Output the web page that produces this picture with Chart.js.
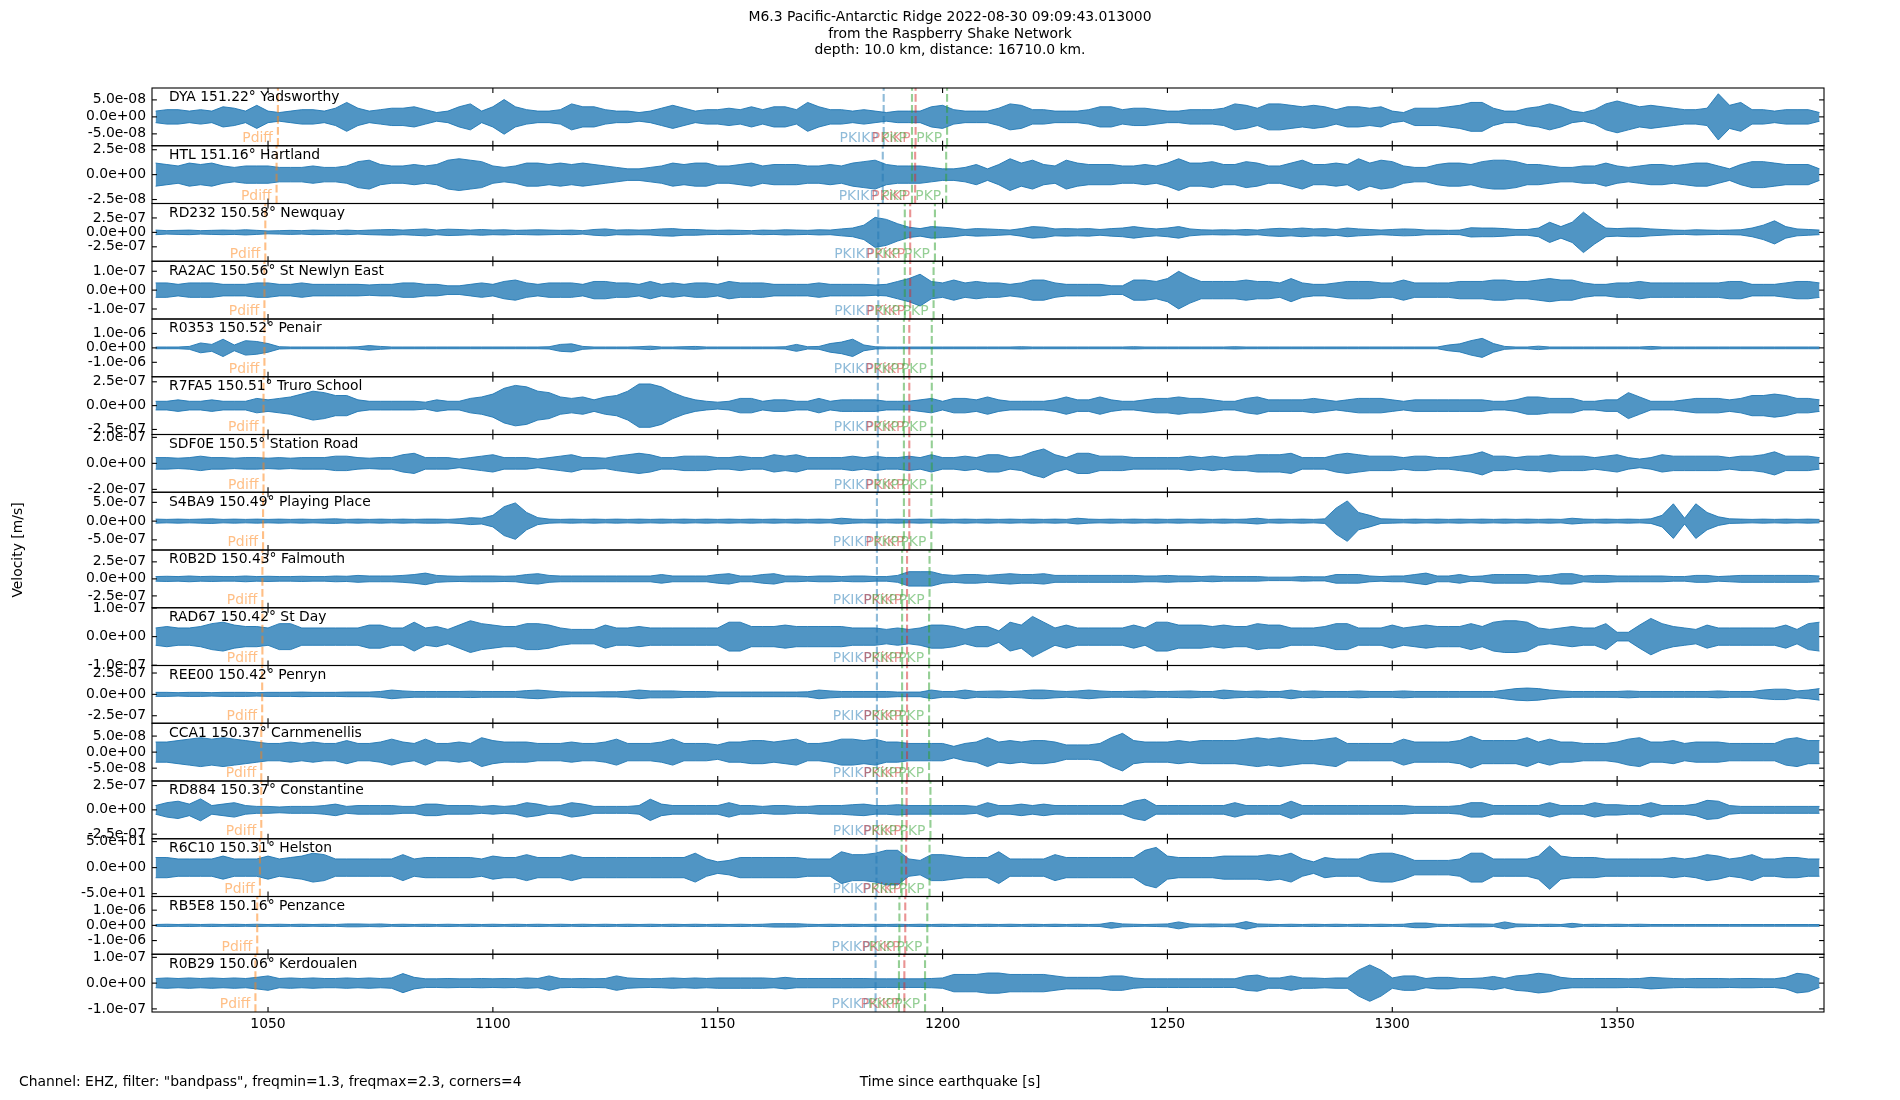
<!DOCTYPE html>
<html>
<head>
<meta charset="utf-8">
<script src="https://cdn.jsdelivr.net/npm/chart.js@4.4.1/dist/chart.umd.min.js"></script>
<style>
  html, body { margin: 0; padding: 0; background: #fff; }
  canvas { display: block; }
</style>
</head>
<body>
<canvas id="chart" width="1900" height="1100"></canvas>
<script>
// station labels, top to bottom
const stations = [
  'DYA 151.22° Yadsworthy', 'HTL 151.16° Hartland', 'RD232 150.58° Newquay',
  'RA2AC 150.56° St Newlyn East', 'R0353 150.52° Penair', 'R7FA5 150.51° Truro School',
  'SDF0E 150.5° Station Road', 'S4BA9 150.49° Playing Place', 'R0B2D 150.43° Falmouth',
  'RAD67 150.42° St Day', 'REE00 150.42° Penryn', 'CCA1 150.37° Carnmenellis',
  'RD884 150.37° Constantine', 'R6C10 150.31° Helston', 'RB5E8 150.16° Penzance',
  'R0B29 150.06° Kerdoualen'
];

// half range of each panel's y axis and its tick value
const yLimits = [8.5e-8, 2.9e-8, 5.0e-7, 1.53e-7, 2.0e-6, 3.03e-7, 2.22e-7, 7.7e-7,
                 4.24e-7, 1.01e-7, 3.38e-7, 9.0e-8, 2.97e-7, 55.5, 1.9e-6, 1.12e-7];
const yTicks = [5e-8, 2.5e-8, 2.5e-7, 1e-7, 1e-6, 2.5e-7, 2e-7, 5e-7,
                2.5e-7, 1e-7, 2.5e-7, 5e-8, 2.5e-7, 50, 1e-6, 1e-7];
const timeTicks = [1050, 1100, 1150, 1200, 1250, 1300, 1350];
const timeRange = [1024.2, 1396.0];

// phase arrival times [s], one per station
const pdiff  = [1052.2, 1051.9, 1049.4, 1049.2, 1049.2, 1049.0, 1049.0, 1048.9,
                1048.75, 1048.75, 1048.7, 1048.5, 1048.5, 1048.2, 1047.6, 1047.2];
const pkikp  = [1186.9, 1186.7, 1185.7, 1185.7, 1185.6, 1185.6, 1185.6, 1185.4,
                1185.4, 1185.4, 1185.4, 1185.4, 1185.4, 1185.3, 1185.1, 1185.1];
const pkikpInner = [1194.0, 1193.9, 1192.8, 1192.8, 1192.6, 1192.6, 1192.6, 1192.6,
                1192.1, 1192.1, 1192.1, 1192.1, 1192.0, 1191.9, 1191.7, 1191.5];
const pkpA   = [1193.2, 1193.2, 1191.6, 1191.6, 1191.4, 1191.4, 1191.4, 1191.4,
                1191.0, 1191.0, 1191.0, 1191.0, 1191.0, 1190.9, 1190.4, 1190.3];
const pkpB   = [1201.0, 1200.8, 1198.3, 1198.0, 1197.6, 1197.6, 1197.6, 1197.5,
                1197.1, 1197.0, 1197.0, 1197.0, 1197.3, 1197.1, 1196.6, 1196.1];

// trace envelopes, tenths of the panel half range, sampled every 2.5 s from 1025 s
const t0 = 1025, dt = 2.5;
const envDYA = [
  2,2.5,2.5,2,2.5,2,3.5,3,2,4, 2,1.5,2,2.5,2.5,2,3,5,3,2, 2.5,3,3,3.5,2.5,1.5,2,3.5,4.5,2, 3.5,6,3.5,2.5,2,2,2.5,4.5,3.5,3.5, 2.5,2,2,1.5,2,3,4,3,2,2.5,
  2.5,3,2.5,3.5,2.5,3.5,3.5,2.5,5,3.5, 2.5,2.5,2,2.5,2,1.5,2,2,2,3.5, 4,2.5,2,2,2,3,4.5,4,2.5,2.5, 2,2,2,2.5,3.5,3.5,2.5,3,3,2.5, 2,2,2.5,2.5,2.5,3,4.5,4,3,
  4.5,4.5,4,3.5,4,3.5,2.5,3.5,3.5,3, 3.5,2,1.5,3,3,3,3.5,4,5,5, 3,2,2,3,3.5,4.5,3.5,2,1.5,2.5, 4.5,5.5,4.5,3.5,4,3.5,3,2.5,2.5,3, 8,4,5,2.5,2.5,2,2.5,2.5,2.5,1.5];
const envHTL = [
  4,3.5,3,4,3.5,4,3,2.5,3,3, 3,2.5,2.5,2.5,3,2.5,2.5,3,4.5,5, 3.5,3,3,3.5,3,3.5,5,5.5,5,4.5, 3,2.5,3,4,4,3.5,4,3.5,4,3.5, 3,2.5,2,2,2.5,3,4,3.5,4,4,
  3,3,3.5,4,3,3.5,3.5,3.5,3,3, 3.5,3,4,4.5,5,3.5,3,3,3,2.5, 2,2,2.5,3.5,2,3.5,5.5,4,5,3.5, 3,5,4,3.5,3.5,3.5,3,3,3.5,3, 4,5.5,4,4,4.5,3.5,3.5,4.5,4,
  3,3,4,5,3.5,3.5,4,3.5,5.5,4, 5,4.5,3,2.5,2.5,3.5,4,4,3.5,4.5, 5,5,4.5,3.5,3.5,3,2.5,2.5,3,3, 4,3,2.5,3,3.5,3.5,3,3.5,4,4, 3,2,3.5,4.5,4.5,4,3.5,3.5,3.5,2];
const envRD232 = [
  0.8,0.6,0.7,0.8,0.6,0.7,0.8,0.7,0.9,0.7, 0.5,0.6,0.7,0.6,0.8,0.7,0.6,0.8,0.6,0.8, 0.9,1,0.8,1,1.2,0.8,1.1,1,0.8,1, 0.8,0.9,0.7,0.8,0.9,0.8,0.7,0.8,0.6,1, 1.2,0.8,0.9,0.8,0.9,1.2,1.3,1,1,0.8,
  0.7,0.8,0.7,0.6,0.8,0.7,0.9,0.8,0.7,0.9, 0.8,1.2,1.5,2.5,5.2,4.5,3,1.8,1.3,2, 1.8,1.5,1,1.3,1.2,1,0.8,1.3,2,1.8, 1.2,1.3,1.2,1.3,1,1.3,1.5,2,1.5,1.2, 1.5,2,1.2,0.9,0.8,0.9,0.8,1,0.8,
  1.2,1.4,1.2,1.5,1.2,1.3,1,1.5,1.2,1, 0.8,1,1.2,1.1,0.8,0.8,0.7,0.8,1.6,1.5, 1.5,1.3,1,1,1.5,3.5,2,3.5,7,4, 1.5,1.3,1.5,1.5,1.2,1,0.8,0.7,0.9,0.8, 0.7,0.8,0.9,1.5,2.5,4,2,1.2,1,0.8];
const envRA2AC = [
  2.5,2.5,2,2.5,2.5,2.5,2,2,2,2.5, 2.5,2,2,2.5,2,2,2,2,2,1.8, 2,2,2.5,2.5,2,2,1.5,1.5,2,2.5, 2,3,3.5,2.5,2,2.5,2.5,2.5,2,3, 3,2.5,2.5,2,3,2,2.5,2,2.5,2.5,
  2,3,2.5,2.5,2.5,2,2,2,2,2.5, 2,2,2,2,1.8,2,3,4,5.5,3, 2.5,3.5,2.5,3,2.5,2.5,2,2.5,3.5,3.5, 2.5,2,2,2,2,1.5,1.5,3.5,3.5,3, 4,6.5,4.5,3,3,3,3,3.5,3,
  3,2.5,4,2.5,2,2,2.5,3,3,3, 2.5,2.5,3.5,2.5,2.5,2.5,2.5,3,3,3, 3.5,3.5,3,3,3.5,4,3.5,3.5,2.5,2, 2,2.5,2.5,3,2.5,2.5,2.5,2.5,2.5,2.5, 2.5,3,3,2,2,2,2.5,3,3,2.5];
const envR0353 = [
  0.3,0.3,0.3,0.5,1.7,1.2,3,1,2.5,2.2, 1.5,0.4,0.3,0.3,0.3,0.3,0.3,0.3,0.4,0.8, 0.5,0.3,0.3,0.3,0.3,0.3,0.3,0.3,0.3,0.3, 0.3,0.3,0.3,0.3,0.3,0.4,1.2,1.4,0.5,0.3, 0.3,0.3,0.3,0.4,0.6,0.3,0.3,0.4,0.5,0.3,
  0.3,0.3,0.3,0.3,0.3,0.3,0.4,1.2,0.4,0.5, 1.5,2,3,1,0.4,0.3,0.3,0.3,0.3,0.3, 0.3,0.3,0.3,0.3,0.3,0.3,0.3,0.4,0.3,0.3, 0.3,0.3,0.3,0.3,0.3,0.3,0.3,0.4,0.3,0.3, 0.3,0.3,0.3,0.3,0.3,0.3,0.4,0.3,0.3,
  0.3,0.3,0.3,0.3,0.3,0.3,0.3,0.3,0.3,0.3, 0.3,0.3,0.3,0.3,0.3,0.3,1,1.4,2.5,3.3, 1.5,0.5,0.3,0.3,0.6,0.3,0.3,0.3,0.3,0.3, 0.3,0.3,0.3,0.3,0.5,0.3,0.3,0.3,0.3,0.3, 0.3,0.3,0.3,0.3,0.3,0.3,0.3,0.3,0.3,0.3];
const envR7FA5 = [
  1.5,1.5,2,1.5,1.5,2,1.5,1.5,1.5,2.5, 2,2.5,3,4,5,4.5,3.5,3.5,2,1.5, 1.5,1.5,1.5,1.5,1.2,2,1.5,1.5,2.5,3, 4,6,7,6.5,5,4.5,3,2.5,3,2, 3,3.5,5,7.5,7.5,6.5,4.5,3,2,1.5,
  1.2,1.5,2.5,2.5,1.5,2,2,1.5,1.5,2.5, 1.5,2,2,2,2,1.5,1.5,1.5,2,2.5, 1.5,2.5,2.5,2,3,2,1.5,1.5,1.5,1.5, 2,3,2,2,3,2,1.5,1.5,2,2.5, 2.5,3,2.5,2.5,2,1.5,1.5,2.5,3,
  2,2,2,2,2.5,2,1.5,2,2.5,2.5, 2.5,2,1.5,2,2,2,2,2,2,2, 1.5,1.5,2,3,3,2.5,2.5,2.5,1.5,1.5, 2,2,4.5,3,1.5,1.5,1.5,2,2.5,2.5, 2.5,2,2.5,3.5,3.5,4,3.5,2.5,2.5,2];
const envSDF0E = [
  2,2,1.8,2,2.5,2,2,1.8,2,2, 1.8,2,1.8,2,2,2,2.5,2.5,2,1.8, 2,2,3,3.5,2,2,2,1.5,2,2.5, 3,2,2,2,1.5,2,2.5,3,2,2, 1.8,2.5,3,3.5,3,2,2,2.5,2.5,2.5,
  2,2,2.5,2,2,3,2.5,3,2,2, 2,2,2.5,2,2.5,2,2,2.5,2,3, 2,2,2.5,2,3,3,2,2.5,4,5, 3,2,3.5,3.5,2.5,2.5,2.5,2,2,2, 2,2,2.5,2,2.5,2,2.5,2.5,3,
  3,3,3.5,2,2,2,3,3.5,3,2.5, 2.5,2.5,2,2.5,2.5,2,2,2.5,3,4, 2.5,2.5,2,2.5,2.5,3,2.5,2.5,2.5,2, 2.5,3,2,1.5,2,3,2.5,2.5,2.5,2.5, 2.5,2,2.5,2.5,3,4,2.5,2.5,2.5,2];
const envS4BA9 = [
  0.7,0.6,0.7,0.6,0.7,0.8,0.6,0.7,0.6,0.7, 0.6,0.7,0.6,0.7,0.6,0.7,0.8,0.6,0.7,0.6, 0.7,0.6,0.7,0.6,0.7,0.7,0.6,0.8,1.2,1, 2,5,6.3,3,1.2,0.7,0.6,0.7,0.6,0.7, 0.6,0.7,0.6,0.7,0.6,0.7,0.6,0.7,0.6,0.7,
  0.6,0.7,0.6,0.7,0.6,0.7,0.6,0.7,0.6,0.7, 0.6,1,0.7,0.6,0.7,0.6,0.7,0.6,0.7,0.6, 0.7,0.6,0.7,0.6,0.7,0.6,0.7,0.6,0.7,0.6, 0.7,0.6,1,0.7,0.6,0.7,0.6,0.7,0.6,0.7, 0.6,0.7,0.6,0.7,0.6,0.7,0.6,0.7,1,
  0.6,0.7,0.6,0.7,0.6,0.8,4.5,7,3,2, 0.8,0.7,0.6,0.7,0.6,0.7,0.6,0.7,0.6,0.7, 0.6,0.7,0.6,0.7,0.6,0.7,0.6,1,0.7,0.6, 0.7,0.6,0.7,0.6,0.8,2,6,1,6,3, 1.5,0.8,0.7,0.6,0.7,0.6,0.7,0.6,0.7,0.6];
const envR0B2D = [
  0.8,0.9,0.8,1,0.8,0.9,0.8,0.8,1,0.8, 0.9,0.8,0.8,0.9,0.8,0.8,1,0.9,1.2,1, 1,1,1.2,1.5,2,1.2,1,0.9,1,1, 1,0.9,1,1.5,1.8,1.2,1,1,1,1, 1,1,1,1,1,1.5,1,1,1,1,
  1.5,1.8,1,1,1.5,1.8,1,1,0.8,1, 1,0.8,1,1,0.8,0.8,1.2,2.5,2.5,2.5, 1.5,1.2,1.5,1.5,1.2,1.5,1.8,1.5,1.5,1.8, 1.2,1.2,1.2,1.2,1.2,1.2,1.2,1.2,1,1, 1.2,1,1,0.8,1,0.8,0.8,0.8,0.8,
  0.6,0.6,0.6,0.8,0.7,0.7,1.5,1.5,1.5,1, 0.8,1,1,1.5,2,1,1,1.5,0.8,1, 1.5,1.5,1.5,1.5,1,1.2,1.8,1.8,1,1.2, 1.2,1,1,1,1,1,0.8,0.8,1.2,1.2, 0.8,1,1.2,1.2,1.2,1.2,1.2,1.2,1.2,1];
const envRAD67 = [
  3,3.5,3,3,3.5,4.5,5,4,3.5,3.5, 3,4.5,4.5,3,3,3,3,3,3,4, 4,3,3,5,3,3.5,2.5,4,5.5,4.5, 4,3.5,3.5,4.5,4.5,4,3,2.5,2.5,2.5, 4,3,3,3.5,3,3,3,3,3,3,
  3,5,5,3.5,3.5,3.5,4,3.5,3.5,3.5, 3.5,3.5,3,3,3,2.5,3,2.5,3,4, 4,3.5,2.5,3.5,3.5,2,5,4,7,5, 3,4,3,3,3,3,3,4,3,5, 5,4,4,4,3.5,4,3.5,3.5,4.5,
  4,4,3,3,3,3.5,4.5,4.5,3,3, 3,4,3,3.5,4,3.5,3.5,3.5,4.5,3.5, 5,5.5,5.5,5,3,2.5,3,3.5,3,3, 4.5,1.5,1.5,4,6.3,4.5,3.5,3,2.5,4, 3,3,3,3,3,3,4,2.5,4.5,5];
const envREE00 = [
  0.7,0.7,0.6,0.7,0.7,0.6,0.7,0.7,0.7,0.6, 0.7,0.7,0.7,0.8,0.7,0.7,0.7,0.8,0.8,0.8, 1,1.5,1.2,1,1,1,1,1,1.1,1, 1,1,1,1.3,1.5,1.2,0.9,0.8,0.8,0.8, 0.9,0.9,1.1,1.5,1.2,1.2,1.2,1,1,1,
  0.8,0.8,0.8,0.8,0.8,0.8,0.8,0.8,0.9,1.5, 1.2,1,1,1,1,1,0.8,0.8,0.8,1.5, 1,1,1.5,1,1.1,1.2,1,1.2,1.5,1.5, 1.2,1,1.2,1.5,1.2,1,1,1.1,1.2,1, 1,1.1,1.2,1,1,1.5,1.2,1,1.2,
  1,1,1.5,1,1.2,1,1,1,1.2,1, 1,1,1.2,1,1,1,1,1,1,1, 1,1.5,2,2.2,2,1.5,1.2,1,1,1, 1,1,1.2,1,1,1,1,1,1,1, 1.2,1,1,1,1.5,1.8,1.8,1.2,1.5,2];
const envCCA1 = [
  3.5,3.5,4,4.5,5,4.5,5,4.5,4,3.5, 3,3,3.5,3,3.5,3,3,4,3,3, 3.5,4.5,3.5,3,4.5,3,3,3.5,3,5, 4,3.5,3.5,3.5,3,3,3,3.5,3,3, 3.5,4.5,3,3,3,3.5,4.5,3,3,3,
  2.5,3.5,3.5,4,4,3.5,4,4.5,3,3, 3.5,4.5,4.5,4,4.5,3.5,3.5,3,3,3, 3,2,3,3.5,5,3.5,4,3.5,4,4, 3.5,2.5,2.5,2.5,3,5,6.5,4,3.5,3.5, 3.5,4,3.5,4,4,4,4,4.5,5,
  4.5,5,4.5,4,4,4.5,5,3,3,3, 3,3,4.5,3.5,3.5,3.5,3.5,4,5.5,4, 4,4,4,5,3.5,4.5,3.5,3.5,3,3, 3,3.5,4.5,5,3.5,3.5,4,3,3.5,3.5, 3.5,3,3,3,3,3,4.5,5,4,4];
const envRD884 = [
  1.5,2.5,3,2,3.8,1.5,2,2.5,1.5,1.2, 1.2,1,1.2,1.2,1.2,1.5,2,1.2,1.5,1.5, 1.5,1.5,1.2,1.2,2,2,1.5,1.5,1.5,1.2, 1.5,1.2,1.5,2.5,2,1.2,1.5,2.5,2,1.2, 1.2,1.2,1.2,1.5,3.7,2,1.5,1.5,1.5,1.5,
  1.5,2.5,1.5,1.5,1.2,1.5,1.5,1.2,1.2,1.5, 1.5,1.5,1.8,2,1.5,1.5,1.8,1.5,1.5,1.5, 1.5,1.5,1.5,1.2,2.5,1.5,1.5,2,1.5,2, 1.5,1.5,1.5,1.5,1.5,1.5,1.5,3,3.7,1.5, 1.5,1.5,1.5,1.5,1.5,1.5,2.5,1.5,1.5,
  1.5,1.5,3,1.5,1.5,1.5,1.5,1.5,1.5,1.5, 1.5,1.5,1.5,1.2,1.2,1.2,1.2,1.5,2.5,2.5, 1.5,1.5,1.5,1.5,1.5,2.5,1.5,1.5,1.5,2.5, 1.8,1.8,1.5,1.5,2.5,1.5,1.5,1.5,2,3.3, 3,1.5,1.2,1.2,1.2,1.2,1.2,1.2,1.2,1.2];
const envR6C10 = [
  3.5,3.5,3,3,3,3,4,3,3,3, 4,3,3.5,4,5,4.5,3,3,3,3, 3,3,4.5,3,3.5,3.5,3.5,3.5,3.5,3, 4,3.5,3.5,4.5,3.5,3.5,3.5,4.5,3.5,3.5, 3.5,3.5,3.5,3.5,3.5,3.5,3.5,3.5,5,3,
  2,2.5,3.5,3.5,3.5,3.5,3.5,3.5,3,3, 3,5.5,4.5,4.5,5,6,6,3,2.5,4.5, 4.5,4,3.5,3.5,3.5,5.5,3,3,3,3, 4.5,3.5,3.5,3.5,3.5,3.5,3.5,3.5,6,7, 4,3.5,3.5,3.5,3.5,4,4,4,4,
  4.5,4,5,3,2,3.5,3,3,3,4.5, 5,5,4,2.5,2.5,2.5,2.5,3,5,5, 3,3,3,3,4,7.5,4,3.5,3.5,3.5, 3,3,3,3,3,3,3.5,3,3.5,4.5, 4,3,3.5,4.5,3,3,3.5,3.5,3,3];
const envRB5E8 = [
  0.3,0.4,0.3,0.4,0.3,0.4,0.3,0.4,0.3,0.4, 0.3,0.4,0.3,0.4,0.3,0.4,0.3,0.5,0.5,0.4, 0.5,0.3,0.4,0.3,0.4,0.3,0.4,0.3,0.4,0.3, 0.4,0.3,0.4,0.3,0.4,0.3,0.4,0.3,0.4,0.3, 0.4,0.3,0.4,0.3,0.4,0.3,0.4,0.3,0.4,0.3,
  0.4,0.3,0.4,0.3,0.4,0.6,0.6,0.6,0.4,0.3, 0.4,0.3,0.4,0.3,0.4,0.3,0.4,0.3,0.4,0.3, 0.4,0.3,0.4,0.3,0.4,0.3,0.4,0.3,0.4,0.3, 0.4,0.3,0.4,0.3,0.4,1,0.5,0.4,0.3,0.4, 0.5,1.2,0.5,0.4,0.5,0.4,0.5,1.3,0.5,
  0.4,0.3,0.4,0.3,0.4,0.3,0.4,0.3,0.4,0.3, 0.4,0.3,0.4,0.8,0.8,0.4,0.3,0.4,0.5,0.5, 0.4,1.2,0.5,0.4,0.3,0.4,0.3,0.7,0.3,0.4, 0.3,0.4,0.3,0.4,0.3,0.3,0.3,0.3,0.3,0.3, 0.3,0.3,0.3,0.3,0.3,0.3,0.3,0.3,0.3,0.3];
const envR0B29 = [
  1.6,1.8,1.6,1.8,1.6,1.8,1.6,1.8,1.6,2, 2.5,1.6,1.8,1.6,1.8,1.6,1.6,1.8,1.6,1.8, 1.6,1.8,3.3,2,1.5,1.5,1.6,1.5,1.5,1.6, 1.5,1.6,1.5,1.8,1.6,2.5,1.6,1.5,1.6,1.5, 1.6,2.5,1.8,1.6,1.5,1.6,1.8,1.6,1.8,1.6,
  1.8,1.8,1.8,1.8,1.8,1.6,2,1.6,1.6,1.6, 1.6,1.6,1.6,1.6,1.5,1.5,1.5,1.5,1.5,1.6, 1.8,3,3,3,3.5,3.5,3,3,3,3, 2.5,2,2,2,2,2.5,2.5,1.8,1.5,1.5, 1.5,1.5,1.5,1.5,1.5,1.5,1.5,2.5,2.8,
  1.8,1.8,2.5,1.8,1.8,1.6,1.8,1.8,4.5,6.3, 4.5,1.8,2.5,2.5,1.6,2,2,1.6,1.6,1.8, 2.3,1.6,2.5,2.8,3.4,3,2,1.6,1.6,1.6, 1.6,1.6,1.5,1.6,2,1.8,1.6,1.5,1.6,1.6, 1.6,1.5,1.6,1.6,1.5,1.5,2,3.4,3,1.5];

const envelopes = [envDYA, envHTL, envRD232, envRA2AC, envR0353, envR7FA5, envSDF0E, envS4BA9,
                   envR0B2D, envRAD67, envREE00, envCCA1, envRD884, envR6C10, envRB5E8, envR0B29];

const titleLines = [
  'M6.3 Pacific-Antarctic Ridge 2022-08-30 09:09:43.013000',
  'from the Raspberry Shake Network',
  'depth: 10.0 km, distance: 16710.0 km.'
];
const footerText = 'Channel: EHZ, filter: "bandpass", freqmin=1.3, freqmax=2.3, corners=4';

const FONT = '"DejaVu Sans", sans-serif';
const FS = 13.9;
const phases = [
  { name: 'Pdiff', times: pdiff, color: 'rgba(255,127,14,0.5)' },
  { name: 'PKIKP', times: pkikp, color: 'rgba(31,119,180,0.5)' },
  { name: 'PKiKP', times: pkikpInner, color: 'rgba(214,39,40,0.5)' },
  { name: 'PKP', times: pkpA, color: 'rgba(44,160,44,0.5)' },
  { name: 'PKP', times: pkpB, color: 'rgba(44,160,44,0.5)' }
];

function sci(v) {
  return Number(v).toExponential(1).replace(/e([+-])(\d)$/, 'e$10$2');
}

const datasets = [];
envelopes.forEach((env, i) => {
  const upper = env.map((v, k) => ({ x: t0 + k * dt, y: v / 10 * yLimits[i] }));
  const lower = env.map((v, k) => ({ x: t0 + k * dt, y: -v / 10 * yLimits[i] }));
  const common = { yAxisID: 'y' + i, borderColor: '#1f77b4', borderWidth: 0.9,
                   pointRadius: 0, tension: 0 };
  datasets.push(Object.assign({ data: upper, fill: '+1',
                                backgroundColor: 'rgba(31,119,180,0.78)' }, common));
  datasets.push(Object.assign({ data: lower, fill: false }, common));
});

const scales = {
  x: {
    type: 'linear', position: 'bottom', min: timeRange[0], max: timeRange[1],
    grid: { display: false, drawTicks: false }, border: { display: false },
    ticks: { color: '#000', font: { family: FONT, size: FS }, padding: 4,
             maxRotation: 0, autoSkip: false, callback: v => String(v) },
    afterBuildTicks: s => { s.ticks = timeTicks.map(v => ({ value: v })); },
    afterFit: s => { s.height = 88; }
  }
};
stations.forEach((name, i) => {
  scales['y' + i] = {
    type: 'linear', position: 'left', stack: 'traces', stackWeight: 1,
    weight: stations.length - i, min: -yLimits[i], max: yLimits[i],
    grid: { display: false, drawTicks: false }, border: { display: false },
    ticks: { color: '#000', font: { family: FONT, size: FS }, padding: 6,
             autoSkip: false, callback: v => sci(v) },
    afterBuildTicks: s => { s.ticks = [-yTicks[i], 0, yTicks[i]].map(v => ({ value: v })); },
    afterFit: s => { s.width = 152; }
  };
});

function seg(ctx, x1, y1, x2, y2) {
  ctx.beginPath(); ctx.moveTo(x1, y1); ctx.lineTo(x2, y2); ctx.stroke();
}

const decorations = {
  id: 'decorations',
  afterDatasetsDraw(chart) {
    const { ctx, scales } = chart;
    const xs = scales.x;
    ctx.save();
    ctx.lineWidth = 2.1;
    ctx.setLineDash([7.7, 3.3]);
    stations.forEach((_, i) => {
      const ys = scales['y' + i];
      phases.forEach(p => {
        const px = xs.getPixelForValue(p.times[i]);
        ctx.strokeStyle = p.color;
        seg(ctx, px, ys.bottom, px, ys.top);
      });
    });
    ctx.restore();
  },
  afterDraw(chart) {
    const { ctx, chartArea, scales } = chart;
    const xs = scales.x;
    const L = chartArea.left, R = chartArea.right;
    const tick = 4.9;
    ctx.save();
    ctx.setLineDash([]);
    ctx.font = FS + 'px ' + FONT;
    ctx.textBaseline = 'alphabetic';
    stations.forEach((name, i) => {
      const ys = scales['y' + i];
      ctx.strokeStyle = '#000';
      ctx.lineWidth = 1.1;
      ctx.strokeRect(L, ys.top, R - L, ys.bottom - ys.top);
      timeTicks.forEach(t => {
        const px = xs.getPixelForValue(t);
        seg(ctx, px, ys.bottom, px, ys.bottom - tick);
        seg(ctx, px, ys.top, px, ys.top + tick);
      });
      [-yTicks[i], 0, yTicks[i]].forEach(v => {
        const py = ys.getPixelForValue(v);
        seg(ctx, L, py, L + tick, py);
        seg(ctx, R, py, R - tick, py);
      });
      ctx.fillStyle = '#000';
      ctx.textAlign = 'left';
      ctx.fillText(name, L + 17, ys.top + 13.3);
      ctx.textAlign = 'right';
      phases.forEach(p => {
        ctx.fillStyle = p.color;
        ctx.fillText(p.name, xs.getPixelForValue(p.times[i]) - 5, ys.bottom - 3.6);
      });
    });
    ctx.fillStyle = '#000';
    ctx.textAlign = 'center';
    titleLines.forEach((line, k) => ctx.fillText(line, 950, 21 + k * 16.7));
    ctx.fillText('Time since earthquake [s]', 950, 1085.5);
    ctx.textAlign = 'left';
    ctx.fillText(footerText, 19, 1085.5);
    ctx.translate(22.3, 550);
    ctx.rotate(-Math.PI / 2);
    ctx.textAlign = 'center';
    ctx.fillText('Velocity [m/s]', 0, 0);
    ctx.restore();
  }
};

new Chart(document.getElementById('chart'), {
  type: 'line',
  data: { datasets },
  options: {
    responsive: false,
    animation: false,
    devicePixelRatio: 1,
    layout: { padding: { top: 88, right: 76, left: 0, bottom: 0 } },
    plugins: { legend: { display: false }, tooltip: { enabled: false }, title: { display: false } },
    scales
  },
  plugins: [decorations]
});
</script>
</body>
</html>
